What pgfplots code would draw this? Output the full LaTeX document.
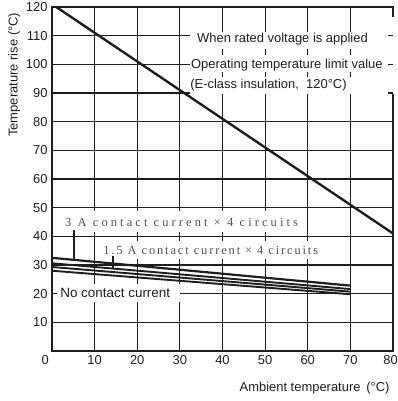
\documentclass[border=0pt]{standalone}
\usepackage{pgfplots}
\pgfplotsset{compat=1.18}
\usepackage{fontspec}
\setmainfont{Liberation Sans}
\newfontfamily\labfontA[LetterSpace=25]{Liberation Serif}
\newfontfamily\labfontB[LetterSpace=15]{Liberation Serif}
\definecolor{ink}{HTML}{1E1E1E}
\definecolor{labgrey}{HTML}{505050}
\begin{document}
\begin{tikzpicture}
\begin{axis}[
 at={(52bp,50bp)}, anchor=south west,
 scale only axis, width=341bp, height=344bp,
 xmin=0, xmax=80, ymin=0, ymax=120,
 xtick={10,20,...,70}, ytick={10,20,...,120},
 extra x ticks={0,80}, extra x tick labels={\makebox[21bp][l]{0},\makebox[9.5bp][r]{80}},
 extra x tick style={grid=none},
 grid=major, major grid style={ink, line width=1.2bp},
 axis line style={ink, line width=1.3bp},
 major tick length=0pt,
 tick label style={font=\fontsize{13}{15}\selectfont, text=ink},
 /pgf/number format/assume math mode=true,
 yticklabel style={xshift=-1bp},
 xticklabel style={yshift=-1bp},
 ylabel={Temperature rise (°C)},
 ylabel style={at={(axis description cs:-0.111,0.803)}, anchor=center, font=\fontsize{13}{15}\selectfont, text=ink},
 xlabel={Ambient temperature\,\ (°C)},
 xlabel style={at={(axis description cs:0.77,-0.1076)}, anchor=center, font=\fontsize{13}{15}\selectfont, text=ink},
 clip=false,
]
% white label boxes
\fill[white] (axis cs:32.4,111.3) rectangle (axis cs:78.8,105.3);
\fill[white] (axis cs:32.4,103.3) rectangle (axis cs:78.8,97.3);
\fill[white] (axis cs:32.4,95.6) rectangle (axis cs:78.8,89.6);
\fill[white] (axis cs:78.8,116.5) rectangle (axis cs:80.8,89.6);
\draw[ink, line width=1.2bp] (axis cs:78.8,110) -- (axis cs:80,110);
\draw[ink, line width=1.2bp] (axis cs:78.8,100) -- (axis cs:80,100);
\draw[ink, line width=1.2bp] (axis cs:78.8,90) -- (axis cs:80,90);
\fill[white] (axis cs:0.7,48.8) rectangle (axis cs:59.4,41.5);
\fill[white] (axis cs:10.8,38.4) rectangle (axis cs:64,32.1);
\fill[white] (axis cs:1.2,23.4) rectangle (axis cs:30.0,17.1);
% data
\addplot[ink, line width=2.4bp, no markers] coordinates {(1,120) (80,41)};
\addplot[ink, line width=2.2bp, no markers] coordinates {(0,32.5) (70,22.8)};
\addplot[ink, line width=1.9bp, no markers] coordinates {(0,30.6) (70,21.6)};
\addplot[ink, line width=1.9bp, no markers] coordinates {(0,29.3) (70,20.7)};
\addplot[ink, line width=1.9bp, no markers] coordinates {(0,28.0) (70,19.8)};
% leaders
\draw[ink, line width=2bp] (axis cs:5.2,42.3) -- (axis cs:5.2,31.8);
\draw[ink, line width=2bp] (axis cs:14.4,33.2) -- (axis cs:14.4,28.7);
% texts
\node[anchor=west, inner sep=0pt, text=ink, font=\fontsize{13}{15}\selectfont] at (axis cs:34.0,108.8) {When rated voltage is applied};
\node[anchor=west, inner sep=0pt, text=ink, font=\fontsize{13}{15}\selectfont] at (axis cs:32.6,99.8) {Operating temperature limit value};
\node[anchor=west, inner sep=0pt, text=ink, font=\fontsize{13}{15}\selectfont] at (axis cs:32.4,92.8) {(E-class insulation,\ \ 120°C)};
\node[anchor=west, inner sep=0pt, text=ink, font=\fontsize{13.5}{15}\selectfont] at (axis cs:1.9,20.2) {No contact current};
\node[anchor=west, inner sep=0pt, text=labgrey, font=\labfontA\fontsize{12.5}{14}\selectfont] at (axis cs:3.05,45.0) {3 A contact current × 4 circuits};
\node[anchor=west, inner sep=0pt, text=labgrey, font=\labfontB\fontsize{12.5}{14}\selectfont] at (axis cs:12.0,35.2) {1.5 A contact current × 4 circuits};
\end{axis}
\pgfresetboundingbox
\path[use as bounding box] (0,0) rectangle (398bp,401bp);
\end{tikzpicture}
\end{document}
